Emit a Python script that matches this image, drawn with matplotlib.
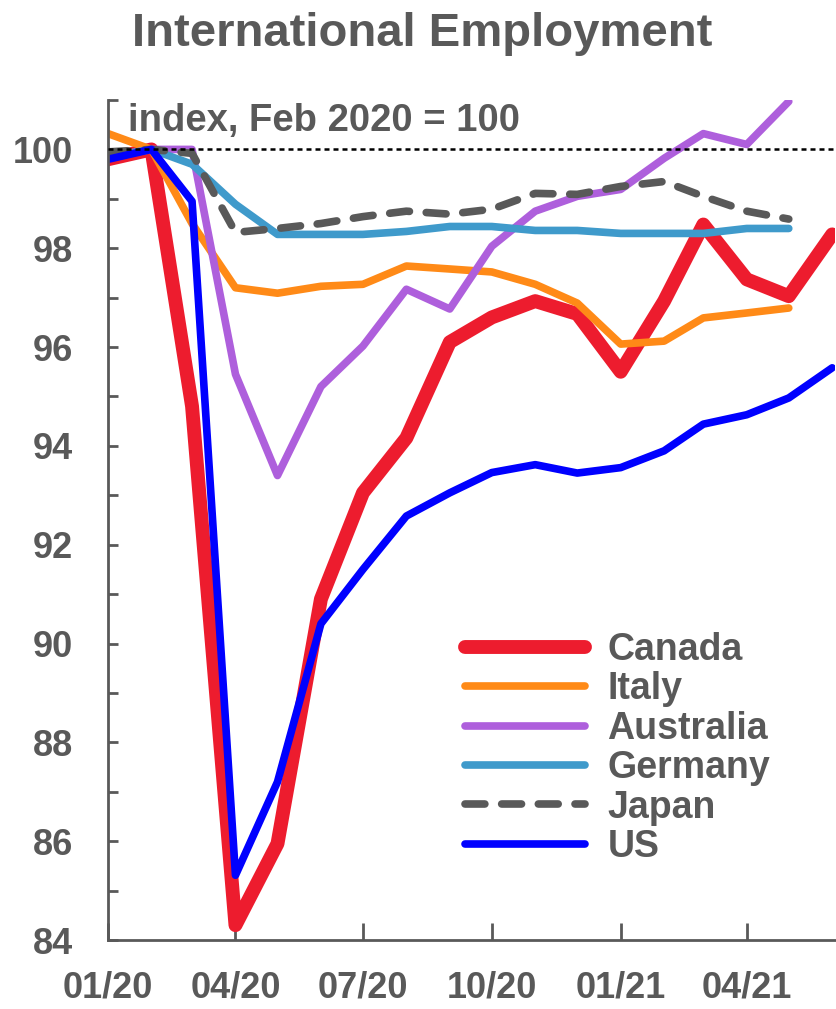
import pandas as pd
import matplotlib
matplotlib.use("Agg")
import matplotlib.pyplot as plt
import matplotlib.dates as mdates
from matplotlib.ticker import MultipleLocator

GRAY = "#595959"

months = pd.date_range("2020-01-01", "2021-06-01", freq="MS")

canada = [99.8, 100.0, 94.8, 84.3, 85.95, 90.9, 93.05, 94.16, 96.1, 96.6,
          96.93, 96.67, 95.5, 96.93, 98.48, 97.37, 97.03, 98.28]
italy = [100.32, 100.0, 98.5, 97.2, 97.09, 97.23, 97.27, 97.64, 97.58,
         97.52, 97.27, 96.89, 96.06, 96.12, 96.59, 96.69, 96.79]
australia = [99.85, 100.0, 100.0, 95.45, 93.4, 95.2, 96.02, 97.17, 96.77,
             98.04, 98.75, 99.05, 99.19, 99.82, 100.32, 100.1, 100.97]
germany = [99.85, 100.0, 99.7, 98.89, 98.28, 98.28, 98.28, 98.34, 98.44,
           98.44, 98.36, 98.36, 98.3, 98.3, 98.3, 98.4, 98.4]
japan = [99.95, 100.0, 99.92, 98.32, 98.4, 98.5, 98.64, 98.75, 98.69,
         98.79, 99.11, 99.09, 99.25, 99.35, 99.05, 98.75, 98.59]
us = [99.8, 100.0, 98.95, 85.31, 87.2, 90.4, 91.5, 92.58, 93.05, 93.46,
      93.62, 93.45, 93.56, 93.9, 94.44, 94.63, 94.97, 95.58]

plt.rcParams["font.family"] = ["Liberation Sans", "DejaVu Sans"]
plt.rcParams["font.weight"] = "bold"

fig = plt.figure(figsize=(8.37, 10.09), dpi=100)
ax = fig.add_axes([108 / 837, 1 - 940 / 1009, (835 - 108) / 837, 840 / 1009])

common = dict(solid_capstyle="round", solid_joinstyle="round")
ax.plot(months, canada, color="#ED1C2E", lw=10, label="Canada", **common)
ax.plot(months[:17], italy, color="#FF8A17", lw=5.5, label="Italy", **common)
ax.plot(months[:17], australia, color="#AE5FDC", lw=5.5, label="Australia", **common)
ax.plot(months[:17], germany, color="#3F9ACB", lw=5.5, label="Germany", **common)
ax.plot(months[:17], japan, color=GRAY, lw=5.5, ls=(0, (2.6, 2.2)),
        dash_capstyle="round", label="Japan")
ax.plot(months, us, color="#0000FF", lw=5.5, label="US", **common)
ax.axhline(100, color="black", lw=1.8, ls=(0, (2.0, 1.6)), zorder=10)

ax.set_xlim(pd.Timestamp("2020-01-01"), pd.Timestamp("2021-06-03"))
ax.set_ylim(84, 101)

ax.xaxis.set_major_locator(mdates.MonthLocator(bymonth=[1, 4, 7, 10]))
ax.xaxis.set_major_formatter(mdates.DateFormatter("%m/%y"))
ax.yaxis.set_major_locator(MultipleLocator(2))
ax.yaxis.set_minor_locator(MultipleLocator(1))

for side in ["top", "right"]:
    ax.spines[side].set_visible(False)
for side in ["left", "bottom"]:
    ax.spines[side].set_color(GRAY)
    ax.spines[side].set_linewidth(2)

ax.tick_params(axis="x", direction="in", length=12, width=2, color=GRAY,
               labelsize=26, labelcolor=GRAY, pad=22)
ax.tick_params(axis="y", which="both", direction="in", length=7, width=2,
               color=GRAY, labelsize=26, labelcolor=GRAY, pad=25)
for lab in ax.get_xticklabels() + ax.get_yticklabels():
    lab.set_fontweight("bold")

ax.text(0.028, 0.997, "index, Feb 2020 = 100", transform=ax.transAxes,
        ha="left", va="top", fontsize=27.5, fontweight="bold", color=GRAY)

fig.text(0.505, 0.966, "International Employment", ha="center", va="center",
         fontsize=34, fontweight="bold", color=GRAY)

leg = ax.legend(loc="upper left", bbox_to_anchor=(465 / 837, 1 - 632 / 1009),
                bbox_transform=fig.transFigure, frameon=False, borderpad=0,
                borderaxespad=0, handlelength=3.2,
                handletextpad=0.6, labelspacing=0.09, labelcolor=GRAY,
                prop=dict(weight="bold", size=27))

fig.savefig("out.png", dpi=100, facecolor="white")
